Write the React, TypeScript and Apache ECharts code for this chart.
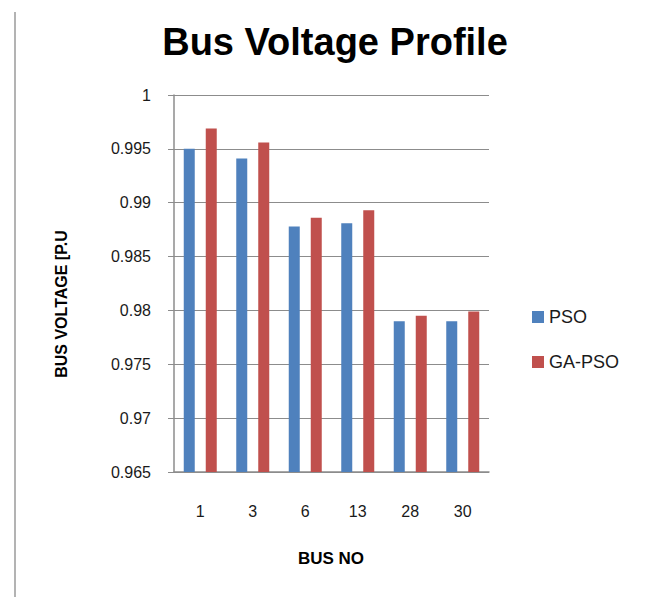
import React, { useEffect, useRef } from "react";
import * as echarts from "echarts";

const categories = ["1", "3", "6", "13", "28", "30"];
const psoValues = [0.995, 0.9941, 0.9878, 0.9881, 0.979, 0.979];
const gaPsoValues = [0.9969, 0.9956, 0.9886, 0.9893, 0.9795, 0.9799];
const yMin = 0.965;
const yMax = 1;
const yStep = 0.005;

const FONT = "'Liberation Sans', Arial, sans-serif";

export default function App() {
  const ref = useRef<HTMLDivElement>(null);
  useEffect(() => {
    if (!ref.current) return;
    const chart = echarts.init(ref.current, undefined, { renderer: "svg" });
    chart.setOption({
      animation: false,
      backgroundColor: "#ffffff",
      textStyle: { fontFamily: FONT },
      grid: {
        left: 174,
        right: 164,
        top: 95,
        bottom: 125,
        containLabel: false,
        outerBoundsMode: "none",
      },
      legend: {
        orient: "vertical",
        left: 527,
        top: 303,
        itemWidth: 12,
        itemHeight: 12,
        itemGap: 27,
        icon: "rect",
        data: ["PSO", "GA-PSO"],
        textStyle: { fontFamily: FONT, fontSize: 18, color: "#1a1a1a" },
      },
      xAxis: {
        type: "category",
        data: categories,
        axisLine: { show: true, lineStyle: { color: "#8c8c8c", width: 1.5 } },
        axisTick: { show: false },
        axisLabel: { fontFamily: FONT, fontSize: 16, color: "#1a1a1a", margin: 31 },
      },
      yAxis: {
        type: "value",
        min: yMin,
        max: yMax,
        interval: yStep,
        axisLine: { show: true, lineStyle: { color: "#8c8c8c", width: 1.5 } },
        axisTick: { show: true, length: 6, lineStyle: { color: "#8c8c8c" } },
        splitLine: { show: true, lineStyle: { color: "#8c8c8c", width: 1.2 } },
        axisLabel: {
          fontFamily: FONT,
          fontSize: 16,
          color: "#1a1a1a",
          margin: 23,
          formatter: (v: number) => String(parseFloat(v.toFixed(3))),
        },
      },
      graphic: [
        {
          type: "line",
          shape: { x1: 15, y1: 12, x2: 15, y2: 597 },
          style: { stroke: "#9a9a9a", lineWidth: 1.5 },
        },
        {
          type: "text",
          x: 335,
          y: 42,
          style: {
            text: "Bus Voltage Profile",
            font: `bold 38px ${FONT}`,
            fill: "#000000",
            align: "center",
            verticalAlign: "middle",
          },
        },
        {
          type: "text",
          x: 331,
          y: 558,
          style: {
            text: "BUS NO",
            font: `bold 17px ${FONT}`,
            fill: "#000000",
            align: "center",
            verticalAlign: "middle",
          },
        },
        {
          type: "text",
          x: 61,
          y: 304,
          rotation: Math.PI / 2,
          style: {
            text: "BUS VOLTAGE [P.U",
            font: `bold 16px ${FONT}`,
            fill: "#000000",
            align: "center",
            verticalAlign: "middle",
          },
        },
      ],
      series: [
        {
          name: "PSO",
          type: "bar",
          data: psoValues,
          barWidth: 11,
          barGap: "100%",
          itemStyle: { color: "#4F81BD" },
        },
        {
          name: "GA-PSO",
          type: "bar",
          data: gaPsoValues,
          barWidth: 11,
          barGap: "100%",
          itemStyle: { color: "#C0504D" },
        },
      ],
    });
    return () => chart.dispose();
  }, []);
  return (
    <div
      ref={ref}
      style={{ position: "fixed", left: 0, top: 0, width: 653, height: 597 }}
    />
  );
}
